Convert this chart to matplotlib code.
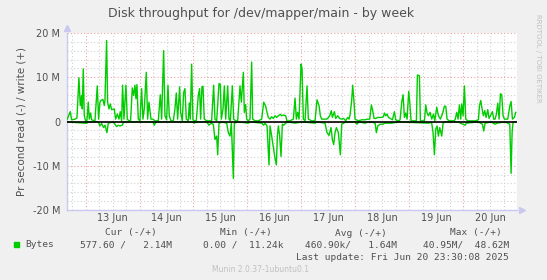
import matplotlib
matplotlib.use("Agg")
import matplotlib.pyplot as plt
from matplotlib.patches import Rectangle
from matplotlib.ticker import MultipleLocator, FixedLocator, FuncFormatter, NullFormatter

# hours since 13 Jun 00:00, values in MB/s
write_hours = [
    -8.18, -6.85, -6.25, -4.77, -3.88, -2.99, -2.39, -1.80, -1.50, -1.06, -0.61, -0.02, 0.57, 1.17,
    1.61, 2.21, 2.65, 4.14, 5.17, 5.77, 6.36, 6.81, 7.70, 8.29, 8.59, 9.33, 9.78, 10.37, 10.96,
    11.56, 12.74, 13.34, 14.08, 14.82, 15.41, 16.01, 16.45, 17.05, 17.94, 18.53, 19.27, 20.01,
    20.76, 21.35, 21.94, 22.39, 22.83, 23.43, 24.17, 24.91, 25.51, 26.10, 26.99, 27.58, 28.18,
    29.07, 29.96, 30.85, 32.33, 33.22, 33.82, 34.71, 35.30, 36.04, 36.64, 37.23, 37.97, 39.01,
    39.75, 40.35, 40.94, 41.83, 42.27, 43.02, 43.61, 44.20, 44.80, 45.69, 46.13, 46.58, 47.17,
    47.77, 48.36, 49.25, 50.14, 50.73, 51.18, 51.77, 52.22, 52.81, 53.85, 55.04, 56.08, 56.97,
    57.56, 58.32, 59.36, 59.95, 60.40, 61.14, 61.74, 62.33, 63.22, 63.81, 64.41, 65.30, 65.89,
    66.78, 67.67, 68.71, 69.30, 70.19, 70.64, 71.23, 71.68, 72.42, 73.16, 73.90, 74.35, 75.39,
    76.87, 78.36, 79.25, 80.14, 80.73, 81.32, 82.07, 82.81, 83.55, 84.29, 85.03, 85.78, 86.67,
    87.26, 88.15, 89.04, 89.63, 90.97, 92.45, 93.20, 93.79, 94.38, 94.98, 95.87, 96.31, 96.90,
    97.65, 98.54, 99.13, 100.62, 102.10, 102.99, 103.88, 104.47, 105.07, 107.29, 107.74, 108.63,
    109.37, 109.82, 110.71, 111.30, 112.19, 113.08, 113.97, 114.86, 115.75, 116.64, 117.24,
    117.68, 118.42, 118.87, 119.46, 119.91, 121.39, 122.87, 124.36, 125.56, 126.45, 127.19,
    127.78, 128.38, 129.12, 130.01, 131.79, 132.53, 132.98, 133.57, 134.16, 134.76, 135.65,
    136.54, 137.43, 138.02, 139.21, 139.95, 140.69, 141.29, 141.88, 142.47, 143.07, 143.81,
    144.26, 144.85, 146.63, 147.22, 147.67, 148.56, 149.00, 150.79, 151.38, 151.97, 152.57,
    153.31, 154.05, 154.79, 155.39, 156.28, 157.02, 157.91, 158.80, 159.69, 160.28, 160.88,
    161.77, 163.85, 164.44, 165.18, 165.77, 166.37, 166.96, 167.41, 168.00, 168.59, 169.19,
    170.08, 173.34, 174.83, 175.27, 175.87, 176.46, 177.05, 177.65, 178.24, 178.98, 179.57,
    180.32, 181.06, 181.65, 182.24, 182.84, 183.43, 184.03, 184.62, 185.21, 185.81, 186.40,
    187.88, 188.78, 189.37, 189.96, 190.85, 191.45,
]
write_values = [
    0.54, 2.22, 0.38, 0.54, 0.77, 9.89, 3.60, 5.90, 2.84, 11.88, 1.30, 0.15, 0.15, 4.37,
    0.54, 1.92, 0.38, 0.15, 8.05, 0.54, 4.37, 4.75, 4.98, 3.60, 4.75, 18.31, 4.37, 2.84, 3.98,
    2.68, 2.84, 0.54, 1.69, 0.54, 2.22, 0.15, 8.20, 0.54, 8.20, 0.54, 0.15, 0.15,
    7.59, 5.90, 8.20, 5.13, 8.35, 0.54, 0.15, 7.43, 0.54, 2.84, 11.11, 0.54, 4.37,
    0.54, 0.54, 0.15, 0.15, 6.05, 0.54, 16.02, 1.30, 0.38, 8.20, 1.30, 0.15, 0.15,
    2.84, 6.44, 0.54, 7.82, 2.07, 0.15, 6.51, 7.43, 0.54, 0.15, 4.21, 0.54, 12.95,
    0.38, 0.15, 0.15, 5.90, 7.43, 0.54, 7.82, 7.97, 0.54, 0.15, 0.15, 0.15, 8.20,
    0.54, 0.15, 8.58, 8.35, 0.54, 2.84, 8.05, 0.54, 8.05, 0.54, 0.15, 8.05, 0.54,
    0.15, 0.15, 8.05, 4.37, 11.11, 2.07, 3.83, 0.54, 0.15, 0.54, 13.41, 0.54, 0.15,
    0.15, 0.54, 4.37, 3.45, 2.07, 0.92, 0.54, 1.07, 0.69, 1.30, 0.92, 1.30, 1.61,
    1.30, 1.46, 1.30, 0.08, 0.15, 0.54, 5.29, 0.54, 2.07, 0.54, 12.95, 12.03, 0.54,
    0.15, 8.05, 0.54, 0.15, 0.15, 4.90, 3.60, 1.30, 0.54, 0.54, 0.69, 1.30,
    2.45, 0.92, 2.22, 0.69, 1.30, 0.69, 0.54, 0.69, 0.15, 0.92, 0.54,
    1.46, 4.75, 8.20, 4.37, 0.54, 0.15, 0.38, 0.38, 0.54, 0.54, 3.75,
    2.45, 0.69, 0.69, 0.92, 0.92, 1.07, 1.92, 1.30, 1.69, 0.92, 0.69,
    0.38, 2.22, 0.38, 0.15, 0.38, 4.37, 6.05, 0.92, 1.92, 0.54, 6.82,
    4.37, 0.15, 0.15, 0.15, 10.50, 10.34, 0.15, 0.15, 3.75, 1.92, 1.30,
    2.07, 0.54, 1.69, 0.15, 3.22, 1.30, 0.54, 1.69, 3.45, 3.45, 0.54,
    0.15, 0.15, 0.38, 2.07, 0.54, 3.75, 0.54, 3.98, 1.30, 8.05, 0.54,
    0.15, 0.15, 0.38, 3.45, 4.75, 2.84, 1.30, 2.45, 0.92, 2.68, 0.69,
    1.46, 2.22, 0.54, 0.54, 1.69, 4.14, 0.54, 6.28, 6.05, 1.30, 0.54,
    0.54, 3.45, 4.52, 0.54, 0.92, 2.07,
]

read_hours = [
    -8.18, -0.32, 0.57, 1.17, 5.62, 6.36, 7.10, 7.99, 8.59, 9.48, 10.07, 12.30, 13.04, 13.78,
    14.52, 15.27, 16.31, 16.90, 29.96, 30.55, 31.14, 32.33, 47.77, 48.36, 48.95, 53.70, 54.29,
    54.89, 55.78, 56.82, 57.56, 58.32, 58.77, 59.36, 60.55, 62.77, 63.52, 64.26, 64.85, 65.74,
    66.19, 67.97, 72.42, 73.16, 78.36, 79.25, 79.84, 80.73, 81.62, 82.07, 82.81, 83.70, 84.29,
    84.89, 85.33, 85.78, 86.37, 86.96, 87.56, 88.15, 89.04, 89.93, 93.20, 96.16, 102.10, 102.99,
    106.55, 107.44, 108.33, 109.22, 109.82, 110.41, 111.00, 111.60, 112.49, 113.38, 113.97,
    114.86, 115.75, 119.91, 120.80, 121.69, 124.37, 125.85, 127.34, 128.82, 129.42, 130.01,
    131.05, 132.53, 132.98, 136.24, 139.21, 152.57, 153.46, 154.05, 154.64, 155.24, 155.83,
    156.42, 157.02, 157.61, 158.50, 159.10, 159.99, 165.92, 166.81, 168.89, 169.48, 174.83,
    175.72, 176.61, 177.20, 177.79, 180.76, 181.36, 182.24, 183.13, 186.70, 187.88, 188.78,
    189.37, 189.82, 190.26, 191.45,
]
read_values = [
    0.10, 0.38, 0.38, 0.08, 0.08, 1.00, 0.46, 1.38, 0.84, 2.53, 0.38, 0.08, 0.61, 1.15,
    0.84, 1.00, 0.84, 0.08, 0.08, 0.84, 0.23, 0.08, 0.08, 0.38, 0.08, 0.08, 0.38,
    0.84, 0.38, 0.61, 4.06, 3.30, 7.51, 0.38, 0.08, 0.38, 2.53, 3.30, 0.38, 12.87,
    0.38, 0.08, 0.38, 0.08, 0.38, 0.84, 0.38, 1.00, 9.81, 1.00, 3.30, 6.36, 8.28,
    9.81, 3.30, 1.00, 3.30, 7.89, 0.61, 0.84, 0.38, 0.08, 0.38, 0.08, 0.38, 0.08,
    0.38, 2.53, 3.14, 1.38, 4.06, 5.21, 2.53, 1.38, 2.53, 7.51, 0.61,
    0.38, 0.08, 0.08, 0.61, 0.08, 0.38, 0.08, 0.08, 0.38, 2.53, 1.00,
    0.61, 0.61, 0.38, 0.38, 0.08, 0.38, 0.23, 0.38, 2.53, 7.51, 1.76,
    1.00, 3.30, 1.38, 3.30, 0.38, 0.08, 0.08, 0.38, 0.84, 0.38, 0.08,
    0.38, 0.61, 2.15, 0.38, 0.08, 0.38, 0.61, 0.38, 0.08, 0.38, 0.61,
    11.72, 2.53, 0.08, 0.08,
]

day_labels = ["13 Jun", "14 Jun", "15 Jun", "16 Jun", "17 Jun", "18 Jun", "19 Jun", "20 Jun"]
y_ticks = [-20, -10, 0, 10, 20]
y_labels = ["-20 M", "-10 M", "0", "10 M", "20 M"]

legend_heads = ["Cur (-/+)", "Min (-/+)", "Avg (-/+)", "Max (-/+)"]
legend_vals = ["577.60 /   2.14M", "0.00 /  11.24k", "460.90k/   1.64M", "40.95M/  48.62M"]

txt = "#505050"
green = "#00cc00"

fig = plt.figure(figsize=(5.47, 2.8), dpi=100)
fig.patch.set_facecolor("#f0f0f0")
ax = fig.add_axes([67 / 547, 70 / 280, 450 / 547, 177 / 280])
ax.set_facecolor("white")

ax.plot(write_hours, write_values, color=green, lw=1.0, zorder=3)
ax.plot(read_hours, [-v for v in read_values], color=green, lw=1.0, zorder=3)
ax.axhline(0, color="black", lw=1.2, zorder=4)

ax.set_xlim(-8.3, 192.0)
ax.set_ylim(-20, 20)

# midnights get the red grid, 6h steps the grey one; noon carries the label
ax.xaxis.set_major_locator(MultipleLocator(24))
ax.xaxis.set_minor_locator(MultipleLocator(6))
ax.xaxis.set_major_formatter(NullFormatter())
def day_fmt(h, pos):
    d = int(round(h)) // 24
    if int(round(h)) % 24 == 12 and 0 <= d < len(day_labels):
        return day_labels[d]
    return ""
ax.xaxis.set_minor_formatter(FuncFormatter(day_fmt))

ax.yaxis.set_major_locator(FixedLocator(y_ticks))
ax.set_yticklabels(y_labels)
ax.yaxis.set_minor_locator(MultipleLocator(2))

ax.grid(which="major", color="#f0a0a0", ls=(0, (1, 2)), lw=0.8, zorder=1)
ax.grid(which="minor", color="#d0d0d0", ls=(0, (1, 2)), lw=0.8, zorder=1)
ax.tick_params(which="both", length=0, colors=txt, labelsize=7)
ax.tick_params(axis="x", which="minor", pad=2)
ax.tick_params(axis="y", pad=5)

for s in ["top", "right"]:
    ax.spines[s].set_visible(False)
for s in ["left", "bottom"]:
    ax.spines[s].set_color("#c8c8f0")
    ax.spines[s].set_linewidth(1.0)
ax.plot([0], [1.03], marker="^", color="#c8c8f0", ms=5, transform=ax.transAxes, clip_on=False)
ax.plot([1.01], [0], marker=">", color="#c8c8f0", ms=5, transform=ax.transAxes, clip_on=False)

ax.set_ylabel("Pr second read (-) / write (+)", color=txt, fontsize=7.5, labelpad=4)

fig.text(261 / 547, 1 - 14 / 280, "Disk throughput for /dev/mapper/main - by week",
         ha="center", va="center", color=txt, fontsize=9)
fig.text(538 / 547, 1 - 14 / 280, "RRDTOOL / TOBI OETIKER", rotation=270,
         ha="center", va="top", color="#c0c0c0", fontsize=5)

mono = "DejaVu Sans Mono"
head_right = [157, 272, 387, 502]
val_right = [172, 284, 397, 509]
for h, x in zip(legend_heads, head_right):
    fig.text(x / 547, 1 - 233 / 280, h, ha="right", va="center", family=mono, fontsize=6.8, color=txt)
for v, x in zip(legend_vals, val_right):
    fig.text(x / 547, 1 - 244.5 / 280, v, ha="right", va="center", family=mono, fontsize=6.8, color=txt)
fig.add_artist(Rectangle((13.5 / 547, 1 - 247 / 280), 5 / 547, 5 / 280,
                         transform=fig.transFigure, color=green))
fig.text(25 / 547, 1 - 244.5 / 280, "Bytes", ha="left", va="center", family=mono, fontsize=6.8, color=txt)
fig.text(509 / 547, 1 - 257 / 280, "Last update: Fri Jun 20 23:30:08 2025",
         ha="right", va="center", family=mono, fontsize=6.8, color=txt)
fig.text(261 / 547, 1 - 269.5 / 280, "Munin 2.0.37-1ubuntu0.1",
         ha="center", va="center", color="#c0c0c0", fontsize=5.5)

fig.savefig("out.png", dpi=100, facecolor=fig.get_facecolor())
